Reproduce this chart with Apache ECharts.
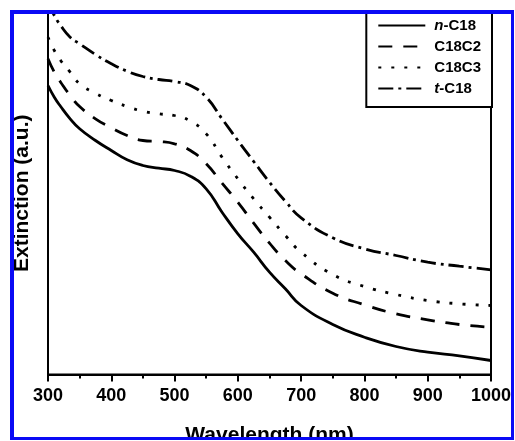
<!DOCTYPE html>
<html><head><meta charset="utf-8">
<script src="https://cdn.jsdelivr.net/npm/echarts/dist/echarts.min.js"></script>
<style>html,body{margin:0;padding:0;background:#fff}#c{width:515px;height:441px}</style>
</head><body><div id="c"></div>
<script>
// Wavelength (nm)
const wavelengths = [300,310,320,335,350,375,400,425,450,475,500,525,550,575,600,625,650,675,700,750,800,850,900,950,1000];
// Extinction (arbitrary units)
const nC18   = [289,277.3,268,255.7,245.7,234,224,214.7,209,206.3,204,198.3,185.7,162.3,140.7,122.3,102.3,85.7,69,50,37.3,28,22.3,18.7,14];
const c18c2  = [315.7,302.3,292.3,279,268,255.7,246.7,239,234,233,230.7,224,210.7,191.3,172.3,151.3,131.3,114,100.7,81.3,69.7,60.7,54.7,50,47.3];
const c18c3  = [337.3,324,314,302.3,290.7,281.3,274,268,263.3,260.7,259,253.3,240.7,217.3,195.7,175.7,157.3,139,122.3,100,88,80,74,70.7,69];
const tC18   = [372.3,359,349,337.3,330.7,320,310.7,303.3,298,295,293,289,277.3,255.7,234,213,192.3,173.3,156.7,136.7,125.7,119,112.3,108.3,104.7];
const seriesNames = ['n-C18','C18C2','C18C3','t-C18'];
const xTicks = [300,400,500,600,700,800,900,1000];

const FONT = '"Liberation Sans", Arial, sans-serif';
const chart = echarts.init(document.getElementById('c'), null, {renderer:'canvas'});
function pairs(arr){ return wavelengths.map((w,i)=>[w,arr[i]]); }
function mkSeries(name, arr, dash){
  return {type:'line', name:name, data:pairs(arr), symbol:'none', showSymbol:false,
    smooth:0.5, clip:true, silent:true,
    lineStyle:{color:'#000', width:2.8, type:dash, cap:'butt'}, itemStyle:{color:'#000'}};
}
chart.setOption({
  animation:false,
  backgroundColor:'#fff',
  grid:{left:48, right:24, top:12, bottom:66.5, show:true, borderColor:'#000', borderWidth:2, backgroundColor:'transparent', outerBoundsMode:'none'},
  xAxis:{type:'value', min:xTicks[0], max:xTicks[xTicks.length-1], interval:100,
    name:'Wavelength (nm)', nameLocation:'middle', nameGap:50,
    nameTextStyle:{fontFamily:FONT, fontWeight:'bold', fontSize:21, color:'#000'},
    axisLine:{show:true, onZero:false, lineStyle:{color:'#000', width:2}},
    axisTick:{show:true, inside:false, length:7, lineStyle:{color:'#000', width:2}},
    minorTick:{show:true, splitNumber:2, length:4, lineStyle:{color:'#000', width:2}},
    splitLine:{show:false},
    axisLabel:{margin:13, fontFamily:FONT, fontWeight:'bold', fontSize:18, color:'#000',
      formatter:function(v){ return String(v); }}},
  yAxis:{type:'value', min:0, max:362.5,
    name:'Extinction (a.u.)', nameLocation:'middle', nameGap:15,
    nameTextStyle:{fontFamily:FONT, fontWeight:'bold', fontSize:21, color:'#000'},
    axisLine:{show:true, lineStyle:{color:'#000', width:2}},
    axisTick:{show:false}, axisLabel:{show:false}, splitLine:{show:false}},
  legend:{orient:'vertical', right:23, top:6, padding:[12,11,11,11], itemGap:6,
    itemWidth:47, itemHeight:13, borderColor:'#000', borderWidth:2, backgroundColor:'#fff',
    selectedMode:false, itemStyle:{opacity:0},
    data:seriesNames,
    formatter:function(n){ if(n==='n-C18') return '{i|n}-C18'; if(n==='t-C18') return '{i|t}-C18'; return n; },
    textStyle:{fontFamily:FONT, fontWeight:'bold', fontSize:15, lineHeight:14, color:'#000', padding:[0,0,0,4],
      rich:{i:{fontFamily:FONT, fontStyle:'italic', fontWeight:'bold', fontSize:15, lineHeight:14, color:'#000'}}}},
  series:[
    mkSeries(seriesNames[0], nC18, 'solid'),
    mkSeries(seriesNames[1], c18c2, [14,11]),
    mkSeries(seriesNames[2], c18c3, [3,10]),
    mkSeries(seriesNames[3], tC18, [15,5,3,5])
  ],
  graphic:[
    {type:'rect', z:100, shape:{x:0,y:0,width:515,height:10}, style:{fill:'#fff'}},
    {type:'rect', z:100, shape:{x:0,y:0,width:10,height:441}, style:{fill:'#fff'}},
    {type:'rect', z:101, shape:{x:10,y:10,width:504,height:4}, style:{fill:'#0a0af5'}},
    {type:'rect', z:101, shape:{x:10,y:10,width:4,height:430}, style:{fill:'#0a0af5'}},
    {type:'rect', z:101, shape:{x:511,y:10,width:3,height:430}, style:{fill:'#0a0af5'}},
    {type:'rect', z:101, shape:{x:10,y:437,width:504,height:3}, style:{fill:'#0a0af5'}},
    {type:'rect', z:100, shape:{x:514,y:0,width:1,height:441}, style:{fill:'#fff'}},
    {type:'rect', z:100, shape:{x:0,y:440,width:515,height:1}, style:{fill:'#fff'}}
  ]
});
</script></body></html>
